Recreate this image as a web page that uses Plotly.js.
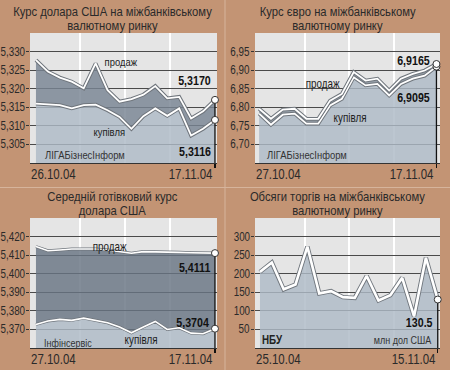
<!DOCTYPE html>
<html>
<head>
<meta charset="utf-8">
<script src="https://cdn.plot.ly/plotly-3.0.1.min.js"></script>
<style>html,body{margin:0;padding:0;background:#c39474;}#chart{width:450px;height:370px;}</style>
</head>
<body>
<div id="chart"></div>
<script>
// ---------- DATA ----------
const datesUsd = ['26.10.04','27.10.04','28.10.04','29.10.04','01.11.04','02.11.04','03.11.04','04.11.04','05.11.04','09.11.04','10.11.04','11.11.04','12.11.04','15.11.04','16.11.04','17.11.04'];
const usdSell = [5.3277,5.3246,5.3230,5.3219,5.3201,5.3268,5.3196,5.3165,5.3172,5.3184,5.3207,5.3174,5.3178,5.3120,5.3139,5.3170];
const usdBuy  = [5.3160,5.3158,5.3156,5.3147,5.3156,5.3157,5.3142,5.3124,5.3092,5.3126,5.3147,5.3127,5.3147,5.3074,5.3092,5.3116];

const datesEur = ['27.10.04','28.10.04','29.10.04','01.11.04','02.11.04','03.11.04','04.11.04','05.11.04','08.11.04','09.11.04','10.11.04','11.11.04','12.11.04','15.11.04','16.11.04','17.11.04'];
const eurSell = [6.796,6.769,6.794,6.796,6.769,6.769,6.818,6.836,6.895,6.872,6.877,6.845,6.877,6.890,6.899,6.9165];
const eurBuy  = [6.783,6.753,6.780,6.783,6.756,6.756,6.805,6.823,6.881,6.859,6.863,6.832,6.863,6.877,6.885,6.9095];

const datesCash = ['27.10.04','28.10.04','29.10.04','01.11.04','02.11.04','03.11.04','04.11.04','05.11.04','08.11.04','09.11.04','10.11.04','11.11.04','12.11.04','15.11.04','16.11.04','17.11.04'];
const cashSell = [5.4146,5.4124,5.4128,5.4133,5.4133,5.4133,5.4128,5.4119,5.4110,5.4119,5.4119,5.4115,5.4115,5.4113,5.4110,5.4111];
const cashBuy  = [5.3727,5.3745,5.3754,5.3749,5.3761,5.3749,5.3736,5.3713,5.3682,5.3713,5.3743,5.3700,5.3709,5.3680,5.3677,5.3704];

const datesVol = ['25.10.04','26.10.04','27.10.04','28.10.04','29.10.04','01.11.04','02.11.04','03.11.04','04.11.04','05.11.04','09.11.04','10.11.04','11.11.04','12.11.04','13.11.04','15.11.04'];
const volume = [205,230,158,171,273,147,153,137,135,194,128,142,189,85,243,130.5];

const ticksUsd  = [5.305,5.310,5.315,5.320,5.325,5.330];
const labelsUsd = ['5,305','5,310','5,315','5,320','5,325','5,330'];
const ticksEur  = [6.70,6.75,6.80,6.85,6.90,6.95];
const labelsEur = ['6,70','6,75','6,80','6,85','6,90','6,95'];
const ticksCash  = [5.370,5.380,5.390,5.400,5.410,5.420];
const labelsCash = ['5,370','5,380','5,390','5,400','5,410','5,420'];
const ticksVol  = [50,100,150,200,250,300];
const labelsVol = ['50','100','150','200','250','300'];

const titles = [
  ['Курс долара США на міжбанківському','валютному ринку'],
  ['Курс євро на міжбанківському','валютному ринку'],
  ['Середній готівковий курс','долара США'],
  ['Обсяги торгів на міжбанківському','валютному ринку']
];
const lblSell = 'продаж', lblBuy = 'купівля';
const srcLiga = 'ЛІГАБізнесІнформ', srcInf = 'Інфінсервіс', srcNbu = 'НБУ', unitVol = 'млн дол США';

// ---------- STYLE ----------
const W = 450, H = 370;
const FONT = "'Liberation Sans',Arial,sans-serif";
const SQUEEZE = 0.82;           // horizontal condensing of text (narrow face look)
const BG = '#c39474';
const LIGHT = 'rgba(173,185,198,0.82)';
const DARK1 = 'rgba(120,132,146,0.82)';
const DARK3 = 'rgba(104,116,130,0.82)';
const MID2  = 'rgba(131,142,152,0.82)';
const fx = x => x / W, fy = y => 1 - y / H;

const panels = [
  {ax:'',  dates:datesUsd,  series:[usdBuy, usdSell],  yr:[5.300,5.335], xr:[-0.5,15.17], tv:ticksUsd,  tt:labelsUsd,  fills:[LIGHT,DARK1], lw:1.8, ow:3.8, dom:{x:[30,217],y:[33,163]}},
  {ax:'2', dates:datesEur,  series:[eurBuy, eurSell],  yr:[6.65,7.00],   xr:[-0.35,15.3], tv:ticksEur,  tt:labelsEur,  fills:[LIGHT,MID2],  lw:1.8, ow:3.8, dom:{x:[255,440],y:[33,163]}},
  {ax:'3', dates:datesCash, series:[cashBuy, cashSell],yr:[5.360,5.430], xr:[-0.5,15.17], tv:ticksCash, tt:labelsCash, fills:[LIGHT,DARK3], lw:1.6, ow:3.0, dom:{x:[30,217],y:[218,348]}},
  {ax:'4', dates:datesVol,  series:[volume],           yr:[0,350],       xr:[-0.42,15.19],tv:ticksVol,  tt:labelsVol,  fills:[LIGHT],       lw:2.6, ow:4.4, dom:{x:[255,440],y:[218,348]}}
];

const data = [];
const layout = {
  width: W, height: H, margin:{l:0,r:0,t:0,b:0},
  paper_bgcolor: BG, plot_bgcolor: '#e5e5e5',
  showlegend:false, font:{family:FONT, color:'#2a2a2a'},
  annotations: [], shapes: []
};
const squeezeOf = [];
function addAnn(a, s) { layout.annotations.push(a); squeezeOf.push(s || SQUEEZE); }

panels.forEach((p, k) => {
  const xa = 'x' + p.ax, ya = 'y' + p.ax;
  const idx = p.dates.map((d, i) => i);
  const last = idx.length - 1;
  p.series.forEach((s, j) => {
    data.push({x: idx, y: s, xaxis: xa, yaxis: ya, mode:'lines', line:{width:0},
      fill: j === 0 ? 'tozeroy' : 'tonexty', fillcolor: p.fills[j], hoverinfo:'skip'});
  });
  p.series.forEach(s => {
    data.push({x: idx, y: s, xaxis: xa, yaxis: ya, mode:'lines', line:{color:'#6f757c', width:p.ow}, hoverinfo:'skip'});
    data.push({x: idx, y: s, xaxis: xa, yaxis: ya, mode:'lines', line:{color:'#ffffff', width:p.lw}, hoverinfo:'skip'});
  });
  const top = p.series[p.series.length - 1][last];
  data.push({x:[last,last], y:[top, p.yr[0]], xaxis: xa, yaxis: ya, mode:'lines', line:{color:'#111', width:1.3}, hoverinfo:'skip'});
  data.push({x: p.series.map(() => last), y: p.series.map(s => s[last]), xaxis: xa, yaxis: ya, mode:'markers',
    marker:{size:7, color:'#ffffff', line:{color:'#333', width:1}}, hoverinfo:'skip', cliponaxis:false});

  const span = p.xr[1] - p.xr[0];
  layout['xaxis' + p.ax] = {
    domain:[fx(p.dom.x[0]), fx(p.dom.x[1])], range:p.xr, anchor: ya,
    tickmode:'array', tickvals:[last], ticks:'outside', ticklen:4, tickcolor:'#111', tickwidth:1.3,
    showticklabels:false, showgrid:false, zeroline:false, showline:true, linecolor:'#333', linewidth:1,
    minor:{tickmode:'array', tickvals:[0.27,0.51,0.75].map(f => p.xr[0] + f*span), showgrid:true, gridcolor:'#ffffff', gridwidth:2, ticks:''}
  };
  layout['yaxis' + p.ax] = {
    domain:[fy(p.dom.y[1]), fy(p.dom.y[0])], range:p.yr, anchor: xa,
    tickmode:'array', tickvals:p.tv, ticks:'outside', ticklen:3, tickcolor:'#333', showticklabels:false,
    showgrid:true, gridcolor:'#4a4a4a', gridwidth:1, zeroline:false, showline:false
  };
  p.tv.forEach((v, i) => {
    addAnn({xref: xa + ' domain', yref: ya, x:0, y:v, xanchor:'right', yanchor:'middle', xshift:-3,
      text:p.tt[i], showarrow:false, font:{family:FONT, size:12, color:'#2a2a2a'}});
  });
  addAnn({xref: xa + ' domain', yref: ya + ' domain', x:0, y:0, xanchor:'left', yanchor:'top', yshift:-1,
    xshift:-1, text:p.dates[0], showarrow:false, font:{family:FONT, size:14, color:'#2a2a2a'}});
  addAnn({xref: xa, yref: ya + ' domain', x:last, y:0, xanchor:'right', yanchor:'top', yshift:-1,
    text:p.dates[last], showarrow:false, font:{family:FONT, size:14, color:'#2a2a2a'}});
  const cx = k % 2 === 0 ? 112.5 : 337.5;
  const ty = k < 2 ? 0 : 185;
  titles[k].forEach((t, j) => {
    addAnn({xref:'paper', yref:'paper', x:fx(cx), y:fy(ty + 11.8 + j*14.2), xanchor:'center', yanchor:'middle',
      text:t, showarrow:false, font:{family:FONT, size:12.5, color:'#2a2a2a'}}, 0.9);
  });
});

layout.shapes.push({type:'line', xref:'paper', yref:'paper', x0:fx(225), x1:fx(225), y0:0, y1:1, line:{color:'#d6b49c', width:1}});
layout.shapes.push({type:'line', xref:'paper', yref:'paper', x0:0, x1:1, y0:fy(187.5), y1:fy(187.5), line:{color:'#d6b49c', width:1}});

function lab(text, x, y, anchor, size, bold, color) {
  addAnn({xref:'paper', yref:'paper', x:fx(x), y:fy(y), xanchor:anchor, yanchor:'middle',
    text: bold ? '<b>' + text + '</b>' : text, showarrow:false,
    font:{family:FONT, size:size, color:color || '#1e1e1e'}});
}
const fmt = (v, d, sep) => v.toFixed(d).replace('.', sep);
// panel 1
lab(lblSell, 121, 62, 'center', 11.5);
lab(lblBuy, 109, 132, 'center', 11.5);
lab(fmt(usdSell[usdSell.length-1], 4, ','), 213, 80, 'right', 13, true, '#111');
lab(fmt(usdBuy[usdBuy.length-1], 4, ','), 213, 151, 'right', 13, true, '#111');
lab(srcLiga, 43, 155, 'left', 11.5, false, '#333');
// panel 2
lab(lblSell, 322, 84, 'center', 12);
lab(lblBuy, 350, 118, 'center', 12);
lab(fmt(eurSell[eurSell.length-1], 4, ','), 432, 60, 'right', 13, true, '#111');
lab(fmt(eurBuy[eurBuy.length-1], 4, ','), 432, 97, 'right', 13, true, '#111');
lab(srcLiga, 265, 155, 'left', 11.5, false, '#333');
// panel 3
lab(lblSell, 109, 247, 'center', 12);
lab(lblBuy, 141, 340, 'center', 12);
lab(fmt(cashSell[cashSell.length-1], 4, ','), 212, 267, 'right', 13, true, '#111');
lab(fmt(cashBuy[cashBuy.length-1], 4, ','), 212, 322, 'right', 13, true, '#111');
lab(srcInf, 42, 343, 'left', 11, false, '#333');
// panel 4
lab(fmt(volume[volume.length-1], 1, '.'), 435, 322, 'right', 13, true, '#111');
lab(srcNbu, 260, 340, 'left', 12, true, '#222');
lab(unitVol, 434, 340, 'right', 11, false, '#333');

function squeeze(el, pivot, s) {
  const tr = el.getAttribute('transform') || '';
  el.setAttribute('transform', tr + ' translate(' + pivot + ',0) scale(' + s + ',1) translate(' + (-pivot) + ',0)');
}

Plotly.newPlot('chart', data, layout, {staticPlot:true, displayModeBar:false}).then(gd => {
  layout.annotations.forEach((a, i) => {
    const t = gd.querySelector('.annotation[data-index="' + i + '"] text');
    if (!t) return;
    const b = t.getBBox();
    const pivot = a.xanchor === 'left' ? b.x : a.xanchor === 'right' ? b.x + b.width : b.x + b.width / 2;
    squeeze(t, pivot, squeezeOf[i]);
  });
});
</script>
</body>
</html>
